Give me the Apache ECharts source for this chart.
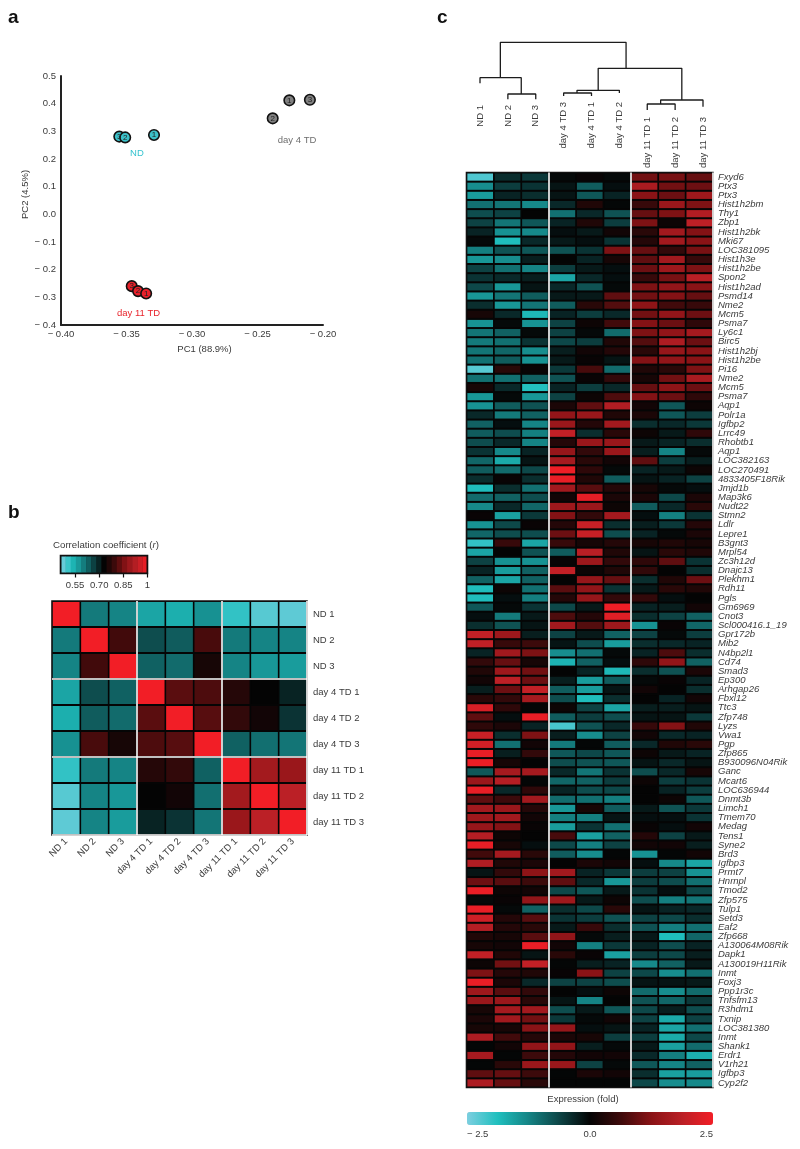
<!DOCTYPE html>
<html><head><meta charset="utf-8">
<style>html,body{margin:0;padding:0;background:#fff}#c{width:800px;height:1149px}</style>
<script src="https://cdn.jsdelivr.net/npm/echarts@6/dist/echarts.min.js"></script>
</head><body><div id="c"></div>
<script>
const FONT = '"Liberation Sans", Arial, sans-serif';
const TEXT = '#3a3a3a';
const rampColors = ['#7ccfe0','#1fbfbe','#158485','#0d4546','#040404','#3e0a0b','#8a1316','#bb2026','#f21e26'];

// Panel a: PCA
const pcaND = [[-0.3555,0.281,'3'],[-0.351,0.278,'2'],[-0.329,0.287,'1']];
const pcaDay4 = [[-0.2257,0.412,'1'],[-0.2384,0.347,'2'],[-0.21,0.414,'3']];
const pcaDay11 = [[-0.346,-0.2595,'3'],[-0.3412,-0.2775,'2'],[-0.335,-0.286,'1']];
const pcaGroupLabels = [[-0.342,0.221,'ND','#35c3cf'],[-0.2198,0.266,'day 4 TD','#6e6e6e'],[-0.3408,-0.358,'day 11 TD','#e8242c']];

// Panel b: correlation
const samples = ['ND 1','ND 2','ND 3','day 4 TD 1','day 4 TD 2','day 4 TD 3','day 11 TD 1','day 11 TD 2','day 11 TD 3'];
const corr = [
 [1,.606,.595,.557,.546,.58,.514,.487,.482],
 [.606,1,.80,.654,.638,.806,.606,.595,.595],
 [.595,.80,1,.633,.622,.752,.595,.573,.568],
 [.557,.654,.633,1,.822,.811,.768,.73,.698],
 [.546,.638,.622,.822,1,.82,.784,.746,.681],
 [.58,.806,.752,.811,.82,1,.633,.617,.611],
 [.514,.606,.595,.768,.784,.633,1,.90,.887],
 [.487,.595,.573,.73,.746,.617,.90,1,.9325],
 [.482,.595,.568,.698,.681,.611,.887,.9325,1]
];
const corrLevels = [.476,.508,.54,.571,.603,.635,.667,.698,.73,.762,.794,.825,.857,.889,.921,.952,.984];
const corrTicks = [.55,.70,.85,1];

// Panel c: dendrogram (sample position, height) and heatmap
const dendroOrder = ['ND 1','ND 2','ND 3','day 4 TD 3','day 4 TD 1','day 4 TD 2','day 11 TD 1','day 11 TD 2','day 11 TD 3'];
const dendroLabelTops = [10,10,10,13,13,13,-2,-2,-2];
const dendroLinks = [
 [0.73,5.24,72.7,37.3,46.7],[0,1.48,37.3,31.7,21],[1,2,21,15.7,15.7],
 [4.24,7.24,46.7,24.7,15],[3.48,5,24.7,22,22],[3,4,22,19,19],
 [6.48,8,15,11,8.3],[6,7,11,5,5]
];
const genes = ['Fxyd6','Ptx3','Ptx3','Hist1h2bm','Thy1','Zbp1','Hist1h2bk','Mki67','LOC381095','Hist1h3e','Hist1h2be','Spon2','Hist1h2ad','Psmd14','Nme2','Mcm5','Psma7','Ly6c1','Birc5','Hist1h2bj','Hist1h2be','Pi16','Nme2','Mcm5','Psma7','Aqp1','Polr1a','Igfbp2','Lrrc49','Rhobtb1','Aqp1','LOC382163','LOC270491','4833405F18Rik','Jmjd1b','Map3k6','Nudt22','Stmn2','Ldlr','Lepre1','B3gnt3','Mrpl54','Zc3h12d','Dnajc13','Plekhm1','Rdh11','Pgls','Gm6969','Cnot3','Scl000416.1_19','Gpr172b','Mib2','N4bp2l1','Cd74','Smad3','Ep300','Arhgap26','Fbxl12','Ttc3','Zfp748','Lyzs','Vwa1','Pgp','Zfp865','B930096N04Rik','Ganc','Mcart6','LOC636944','Dnmt3b','Limch1','Tmem70','Medag','Tens1','Syne2','Brd3','Igfbp3','Prmt7','Hnrnpl','Tmod2','Zfp575','Tulp1','Setd3','Eaf2','Zfp668','A130064M08Rik','Dapk1','A130019H11Rik','Inmt','Foxj3','Ppp1r3c','Tnfsfm13','R3hdm1','Txnip','LOC381380','Inmt','Shank1','Erdr1','V1rh21','Igfbp3','Cyp2f2'];
const expr = [
[-2.2,-.4,-.5,-.05,.05,-.05,1.05,1.1,.95],
[-1.35,-.55,-.45,-.15,-.85,-.1,1.65,1.05,1.0],
[-1.5,-.3,-.4,-.15,-.8,-.3,1.25,1.0,1.5],
[-1.05,-1.1,-1.3,-.35,.3,-.03,.55,1.45,1.15],
[-.7,-.6,0,-1.05,-.35,-.75,.95,1.15,1.75],
[-.6,-1.1,-.8,-.3,.3,-.55,1.15,.1,1.9],
[-.3,-1.4,-1.3,-.1,-.2,.15,.4,1.55,1.2],
[-.05,-1.85,-.35,-.2,-.1,-.45,.35,1.55,1.25],
[-1.2,-.75,-.8,-.75,-.45,1.15,.95,.5,1.1],
[-1.45,-1.35,-.25,0,-.3,.2,.9,1.55,.55],
[-.6,-1.05,-1.25,-.55,-.2,-.1,1.0,1.5,1.15],
[-.45,-.35,-.25,-1.6,-.35,-.1,.55,1.1,1.85],
[-.65,-1.45,-.15,-.35,-.75,-.05,1.15,1.35,1.25],
[-1.45,-1.1,-.85,-.2,-.2,.9,1.05,1.2,.95],
[-.4,-1.45,-1.1,-.85,.4,.8,1.3,.65,.55],
[.2,-.35,-1.8,-.3,-.55,-.35,1.05,1.35,1.0],
[-1.4,-.05,-1.4,-.6,.1,.65,1.2,1.0,.45],
[-1.1,-.9,-.05,-.6,-.05,-1.0,1.15,1.35,1.6],
[-1.15,-1.05,-.45,-.65,-.55,.3,.8,1.7,1.0],
[-1.1,-.95,-1.35,-.25,.15,.35,.4,1.4,1.25],
[-1.05,-.85,-1.4,-.2,.05,-.15,1.2,1.35,1.25],
[-2.25,.4,.05,-.5,.7,-1.0,.3,.4,1.15],
[-1.05,-1.05,-.9,-.75,.05,.5,.2,1.05,1.65],
[.2,-.35,-1.9,-.3,-.55,-.35,.95,1.3,1.0],
[-1.45,-.05,-1.45,-.6,.1,.75,1.2,1.0,.45],
[-1.4,-.85,-.75,.25,.9,1.75,.15,-.8,.1],
[-.35,-1.15,-.9,1.35,1.45,.3,.25,-.8,-.55],
[-.9,-.1,-1.25,1.45,.35,1.55,-.4,-.35,-.5],
[-.85,-.7,-1.2,1.95,-.4,.4,.1,-.2,.45],
[-.7,-.35,-1.25,.35,1.45,1.45,-.2,-.3,-.4],
[-.45,-1.3,-.3,1.4,.5,1.45,-.25,-1.25,-.05],
[-.95,-1.65,-.15,1.6,.4,.15,.9,-.55,-.25],
[-.85,-1.0,-.65,2.45,.45,-.05,-.3,-.2,.1],
[-.4,.05,-.4,2.4,.3,-.85,-.15,-.3,-.6],
[-1.85,-.4,-1.05,1.55,.85,.35,.2,-.05,-.1],
[-1.0,-.9,-.7,.15,2.35,.25,.25,-.65,.25],
[-1.3,-.35,-.95,1.5,1.45,.1,-.85,-.35,.4],
[.05,-1.55,-.5,1.2,.5,1.55,-.1,-1.2,-.45],
[-1.4,-.65,.05,.35,2.0,-.4,-.25,-.5,.35],
[-.95,-.7,-.7,1.0,2.0,-.7,-.3,-.05,.25],
[-2.0,.55,-1.6,.55,.2,.35,.2,.3,.2],
[-1.6,0,-.75,-.85,1.85,.3,-.15,.4,.3],
[-.6,-1.4,-1.4,.05,1.5,.5,.45,.9,-.45],
[-.3,-1.5,-.9,1.95,.1,.3,.5,0,-.4],
[-.9,-1.6,-.9,0,1.4,.95,-.4,.3,1.0],
[-1.85,.1,-1.05,.85,1.35,-.45,-.2,.4,.3],
[-1.85,-.1,-1.2,.35,1.4,.5,.5,-.1,0],
[-.8,-.05,-.45,-.65,-.2,2.45,-.3,-.25,.15],
[-.1,-1.15,-.2,.75,.35,2.3,-.4,-.6,-.9],
[-.4,-.75,-.15,1.55,.8,1.5,-1.4,.05,-.95],
[1.95,1.5,-.25,-.6,-.2,-.9,-.6,-.05,-.55],
[1.95,.55,.6,-.15,-.7,-1.5,-.4,-.35,-.3],
[-.3,1.55,1.15,-1.35,-1.05,-.05,-.3,.75,-.4],
[.5,.95,.2,-1.75,-.9,-.1,.45,1.35,-.9],
[.3,1.5,1.05,0,-.3,-1.8,-.4,-.75,.25],
[.15,1.9,1.0,-.25,-1.5,-.85,-.05,.05,-.3],
[-.25,1.0,1.95,-.85,-1.5,-.15,.15,0,-.4],
[.4,.5,1.6,-.7,-1.85,-.4,0,-.3,.15],
[2.2,.45,-.02,.1,-.6,-1.6,-.25,-.25,-.15],
[.9,-.1,2.4,-.85,-.55,-.7,-.15,-.15,-.5],
[.45,.25,-.3,-2.15,-.75,-.35,.55,1.2,.3],
[2.0,-.4,1.15,-.25,-1.35,-.6,.15,-.35,-.3],
[2.15,-1.05,.15,-1.15,-.02,-.85,-.35,.3,.4],
[2.4,-.25,.5,-.8,-.65,-.8,.1,-.2,-.3],
[2.4,.2,0,-.7,-.75,-.8,-.15,-.35,-.15],
[-.8,1.6,1.6,-.35,-1.1,-.45,-.7,-.35,.2],
[1.45,1.8,-.02,-.95,-.9,-.55,.1,-.55,-.45],
[2.4,-.35,.45,-.3,-.7,-.65,0,-.3,-.55],
[.9,.6,1.55,-1.0,-1.05,-1.2,0,.1,-.8],
[1.55,1.45,.35,-1.45,.2,-.85,-.2,-.75,-.5],
[1.5,1.55,.15,-1.2,-1.2,-.15,-.1,-.1,-.45],
[1.4,1.2,.05,-1.5,-.45,-1.05,.05,-.1,.15],
[1.8,.1,0,.7,-1.55,-.9,.35,-.6,-.2],
[2.4,.2,-.1,-.65,-1.2,-.6,.15,.15,-.25],
[.65,1.6,.4,-.85,-1.35,-.02,-1.4,-.02,.15],
[1.75,.3,.25,0,.25,.15,-.1,-1.3,-1.6],
[-.15,.5,1.3,1.55,-.3,-.5,-.55,-.6,-1.4],
[1.0,.85,.6,.9,-.35,-1.45,-.55,-.7,-1.05],
[2.4,.1,.15,-.65,-.8,-.2,-.45,-.1,-.65],
[-.05,.05,1.35,1.5,-.2,.1,-.7,-1.2,-1.1],
[2.4,-.05,-.9,-.4,-.65,.4,-.15,-.3,-.35],
[2.1,.35,.85,-.45,-.55,-.75,-.6,-.65,-.4],
[1.8,.35,.4,-.2,.55,-.4,-.75,-1.2,-1.05],
[.3,.2,.85,1.35,-.05,-.25,-.2,-1.85,-.95],
[.2,.15,2.4,.15,-1.2,-.5,-.3,-.7,-.3],
[1.95,.3,-.15,.4,.05,-1.55,-.55,-.65,-.25],
[.1,1.05,1.95,-.02,-.25,-.3,-1.3,-.9,-.2],
[1.15,.35,.3,.05,1.25,-.6,-.65,-1.35,-1.05],
[2.4,.25,-.35,-.6,-.6,-.7,-.15,-.15,-.2],
[1.5,.85,.5,0,-.1,.1,-1.0,-1.35,-1.0],
[1.45,1.45,.4,-.15,-1.25,0,-.75,-.95,-.5],
[.2,1.6,1.55,-.7,-.2,-.8,-.65,-.25,-.7],
[.25,1.55,1.05,-.5,-.05,.15,-.6,-1.65,-.6],
[.2,.2,1.25,1.4,-.1,-.15,-.3,-1.6,-1.05],
[1.7,.65,.35,.25,.2,-.55,-.55,-1.65,-.65],
[-.02,.15,1.35,1.35,-.25,-.05,-.2,-1.55,-1.0],
[1.6,-.02,.6,.35,.15,.15,-.35,-1.2,-1.7],
[-.02,.4,1.45,1.45,-.6,-.05,-.8,-1.25,-.9],
[.9,.95,.6,-.02,.25,.15,-.4,-1.55,-1.5],
[1.7,.95,.4,-.02,-.02,-.02,-.65,-1.35,-1.3]
];

const pcaSeries = (data, color) => ({
  type:'scatter', xAxisIndex:0, yAxisIndex:0, data, symbolSize:10.5, silent:true,
  itemStyle:{color, borderColor:'#111', borderWidth:1.6, opacity:1},
  label:{show:true, position:'inside', formatter:p=>p.value[2], fontFamily:FONT, fontSize:8, color:'#222'},
  z:3
});
const cells = (gapX, gapY) => (params, api) => {
  const c = api.coord([api.value(0), api.value(1)]);
  const s = api.size([1, 1]);
  return {type:'rect', shape:{x:c[0]-s[0]/2+gapX/2, y:c[1]-s[1]/2+gapY/2, width:s[0]-gapX, height:s[1]-gapY}, style:{fill:api.visual('color')}};
};
const barCells = (params, api) => {
  const c = api.coord([api.value(0), api.value(1)]);
  const s = api.size([1, 1]);
  const cs = params.coordSys;
  const shape = echarts.graphic.clipRectByRect(
    {x:c[0]-s[0]/2, y:c[1]-s[1]/2, width:s[0]+0.3, height:s[1]},
    {x:cs.x+1, y:cs.y+1, width:cs.width-2, height:cs.height-2});
  return shape && {type:'rect', shape, style:{fill:api.visual('color')}};
};
const blockSplit = {show:true, interval:i=>i===3||i===6, lineStyle:{color:'#fff', width:1.6}};
const dendroSeries = dendroLinks.map(([l,r,h,hl,hr]) => ({
  type:'line', xAxisIndex:3, yAxisIndex:3, symbol:'none', silent:true,
  lineStyle:{color:'#1c1c1c', width:1.3},
  data:[[l,hl],[l,h],[r,h],[r,hr]]
}));
const ttl = (text,left,top,extra) => ({text,left,top,padding:0,...extra});
const letter = {textStyle:{fontFamily:FONT,fontWeight:'bold',fontSize:19,color:'#111'}};

const option = {
  animation:false,
  title:[
    ttl('a',8,8,letter), ttl('b',8,503,letter), ttl('c',437,8,letter),
    ttl('Correlation coefficient ({i|r})',53,540,{textStyle:{fontFamily:FONT,fontWeight:'normal',fontSize:9.7,color:TEXT,rich:{i:{fontStyle:'italic',fontFamily:FONT,fontSize:9.7,color:TEXT}}}}),
    ttl('Expression (fold)',583,1094,{textAlign:'center',textStyle:{fontFamily:FONT,fontWeight:'normal',fontSize:9.5,color:TEXT}})
  ],
  grid:[
    {left:61,top:76,width:262,height:249},
    {left:52,top:601,width:255,height:234,show:true,borderColor:'#111',borderWidth:1.6,backgroundColor:'#050505'},
    {left:466.5,top:172.5,width:246.5,height:915,show:true,borderColor:'#111',borderWidth:1.6,backgroundColor:'#050505'},
    {left:480,top:40,width:223,height:85},
    {left:60.5,top:555.5,width:87,height:18,show:true,borderColor:'#111',borderWidth:1.6,backgroundColor:'#111'},
    {left:467,top:1112,width:246,height:13}
  ],
  xAxis:[
    {gridIndex:0,type:'value',min:-0.4,max:-0.2,interval:0.05,splitLine:{show:false},axisTick:{show:false},
     axisLine:{show:true,onZero:false,lineStyle:{color:'#222',width:2}},
     axisLabel:{formatter:v=>'\u2212 '+Math.abs(v).toFixed(2),fontSize:9.5,color:TEXT,margin:4,fontFamily:FONT,hideOverlap:false},
     name:'PC1 (88.9%)',nameLocation:'middle',nameGap:19,nameTextStyle:{fontSize:9.5,color:TEXT,fontFamily:FONT,padding:[0,0,0,25]}},
    {gridIndex:1,type:'category',data:samples,z:5,splitLine:blockSplit,axisLine:{show:false},axisTick:{show:false},
     axisLabel:{interval:0,rotate:45,fontSize:9.5,color:TEXT,margin:5,fontFamily:FONT}},
    {gridIndex:2,type:'category',data:dendroOrder,z:5,splitLine:blockSplit,axisLine:{show:false},axisTick:{show:false},axisLabel:{show:false}},
    {gridIndex:3,type:'value',min:0,max:8,show:false},
    {gridIndex:4,type:'category',data:corrLevels,axisLine:{show:false},axisTick:{show:false},axisLabel:{show:false},splitLine:{show:false}},
    {gridIndex:4,type:'value',position:'bottom',min:0.46,max:1,z:5,splitLine:{show:false},axisLine:{show:false},
     axisTick:{show:true,length:4,customValues:corrTicks,lineStyle:{color:'#111',width:1.2}},
     axisLabel:{customValues:corrTicks,formatter:v=>v===1?'1':v.toFixed(2),fontSize:9.5,color:TEXT,margin:6.5,fontFamily:FONT}},
    {gridIndex:5,type:'value',min:-2.5,max:2.5,interval:2.5,splitLine:{show:false},axisLine:{show:false},axisTick:{show:false},
     axisLabel:{formatter:v=>(v<0?'\u2212 ':'')+Math.abs(v).toFixed(1),alignMinLabel:'left',alignMaxLabel:'right',fontSize:9.5,color:TEXT,margin:4,fontFamily:FONT}}
  ],
  yAxis:[
    {gridIndex:0,type:'value',min:-0.4,max:0.5,interval:0.1,splitLine:{show:false},axisTick:{show:false},
     axisLine:{show:true,onZero:false,lineStyle:{color:'#222',width:2}},
     axisLabel:{formatter:v=>(v<0?'\u2212 ':'')+Math.abs(v).toFixed(1),fontSize:9.5,color:TEXT,margin:5,fontFamily:FONT},
     name:'PC2 (4.5%)',nameLocation:'middle',nameGap:21,nameTextStyle:{fontSize:9.5,color:TEXT,fontFamily:FONT,padding:[0,0,0,12]}},
    {gridIndex:1,type:'category',data:samples,inverse:true,position:'right',z:5,splitLine:blockSplit,axisLine:{show:false},axisTick:{show:false},
     axisLabel:{interval:0,fontSize:9.5,color:TEXT,margin:6,fontFamily:FONT}},
    {gridIndex:2,type:'category',data:genes,inverse:true,position:'right',axisLine:{show:false},axisTick:{show:false},splitLine:{show:false},
     axisLabel:{interval:0,fontSize:9.5,fontStyle:'italic',color:TEXT,margin:5,fontFamily:FONT}},
    {gridIndex:3,type:'value',min:-10,max:75,show:false},
    {gridIndex:4,type:'category',data:['r'],show:false},
    {gridIndex:5,type:'value',show:false,min:0,max:1}
  ],
  visualMap:[
    {type:'continuous',show:false,seriesIndex:[3,13],dimension:2,min:0.46,max:1,inRange:{color:rampColors}},
    {type:'continuous',show:true,seriesIndex:[4],dimension:2,min:-2.5,max:2.5,inRange:{color:rampColors},
     orient:'horizontal',left:467,top:1112,itemWidth:13,itemHeight:246,padding:0,text:null,calculable:false,showLabel:false,hoverLink:false}
  ],
  series:[
    pcaSeries(pcaND,'#3cc1c9'),
    pcaSeries(pcaDay4,'#808080'),
    pcaSeries(pcaDay11,'#e8202a'),
    {type:'custom',xAxisIndex:1,yAxisIndex:1,silent:true,renderItem:cells(1.6,2),encode:{x:0,y:1},
     data:corr.flatMap((row,r)=>row.map((v,c)=>[c,r,v]))},
    {type:'custom',xAxisIndex:2,yAxisIndex:2,silent:true,renderItem:cells(1.7,2),encode:{x:0,y:1},
     data:expr.flatMap((row,r)=>row.map((v,c)=>[c,r,v]))},
    {type:'scatter',xAxisIndex:0,yAxisIndex:0,symbolSize:1,silent:true,itemStyle:{opacity:0},
     data:pcaGroupLabels.map(d=>({value:d.slice(0,2),label:{show:true,position:'inside',formatter:d[2],color:d[3],fontSize:9.5,fontFamily:FONT,opacity:1}}))},
    ...dendroSeries.slice(0,7),
    {type:'custom',xAxisIndex:4,yAxisIndex:4,silent:true,renderItem:barCells,encode:{x:0,y:1},data:corrLevels.map((v,i)=>[i,0,v])},
    dendroSeries[7],
    {type:'scatter',xAxisIndex:3,yAxisIndex:3,symbolSize:1,silent:true,itemStyle:{opacity:0},
     data:dendroOrder.map((s,i)=>({value:[i,dendroLabelTops[i]],
       label:{show:true,position:'inside',rotate:90,align:'right',verticalAlign:'middle',formatter:s,color:TEXT,fontSize:9.5,fontFamily:FONT,opacity:1}}))}
  ]
};
const chart = echarts.init(document.getElementById('c'),null,{renderer:'canvas'});
chart.setOption(option);
</script></body></html>
